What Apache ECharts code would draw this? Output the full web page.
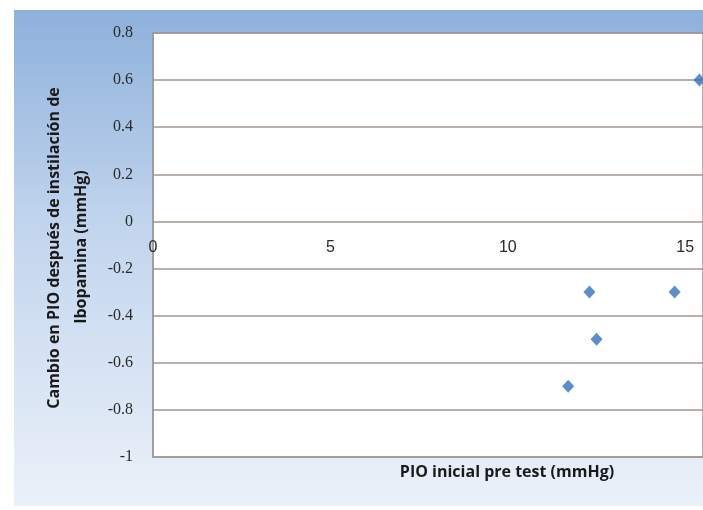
<!DOCTYPE html>
<html><head><meta charset="utf-8">
<script src="https://cdn.jsdelivr.net/npm/echarts@6/dist/echarts.min.js"></script>
<style>html,body{margin:0;padding:0;background:#fff}#c{width:703px;height:510px}</style>
</head><body><div id="c"></div>
<script>
var xValues = [11.7, 12.3, 12.5, 14.7, 15.4];
var yValues = [-0.7, -0.3, -0.5, -0.3, 0.6];
var xTitle = 'PIO inicial pre test (mmHg)';
var yTitleLines = ['Cambio en PIO después de instilación de', 'Ibopamina (mmHg)'];

var pts = xValues.map(function(x, i){ return [x, yValues[i]]; });
var titleFont = 'bold 16px "Open Sans", sans-serif';
var chart = echarts.init(document.getElementById('c'), null, {renderer:'canvas'});
chart.setOption({
  animation:false,
  graphic:[
    {type:'rect', z:-10, shape:{x:14, y:10, width:700, height:496},
     style:{fill:{type:'linear', x:0, y:0, x2:0, y2:1, colorStops:[
       {offset:0, color:'#8eb0db'},{offset:0.45, color:'#c3d6ee'},{offset:1, color:'#ebf1f9'}]}}},
    {type:'text', x:54, y:248, rotation:Math.PI/2,
     style:{text:yTitleLines[0], font:titleFont, fill:'#1a1a1a', textAlign:'center', textVerticalAlign:'middle'}},
    {type:'text', x:81, y:247, rotation:Math.PI/2,
     style:{text:yTitleLines[1], font:titleFont, fill:'#1a1a1a', textAlign:'center', textVerticalAlign:'middle'}},
    {type:'text', x:507, y:472,
     style:{text:xTitle, font:titleFont, fill:'#1a1a1a', textAlign:'center', textVerticalAlign:'middle'}}
  ],
  grid:{left:153, top:33, right:0, bottom:53, show:true, backgroundColor:'#ffffff', borderColor:'#9e9894', borderWidth:1.5},
  xAxis:{type:'value', min:0, max:15.5, interval:5, offset:-236,
    axisLine:{show:false, onZero:false},
    axisTick:{show:false},
    axisLabel:{margin:19, fontSize:16, color:'#2a2a2a', fontFamily:'"Liberation Sans", sans-serif', showMaxLabel:false},
    splitLine:{show:false}},
  yAxis:{type:'value', min:-1, max:0.8, interval:0.2,
    axisLine:{show:true, lineStyle:{color:'#9e9894', width:1.5}},
    axisTick:{show:false},
    axisLabel:{margin:20, fontSize:16, color:'#2a2a2a', fontFamily:'"Liberation Serif", serif'},
    splitLine:{show:true, lineStyle:{color:'#a39790', width:1.5}}},
  series:[{type:'scatter', data:pts, symbol:'diamond', symbolSize:[12,13], clip:false,
    itemStyle:{color:'#3470bd'}}]
});
</script></body></html>
